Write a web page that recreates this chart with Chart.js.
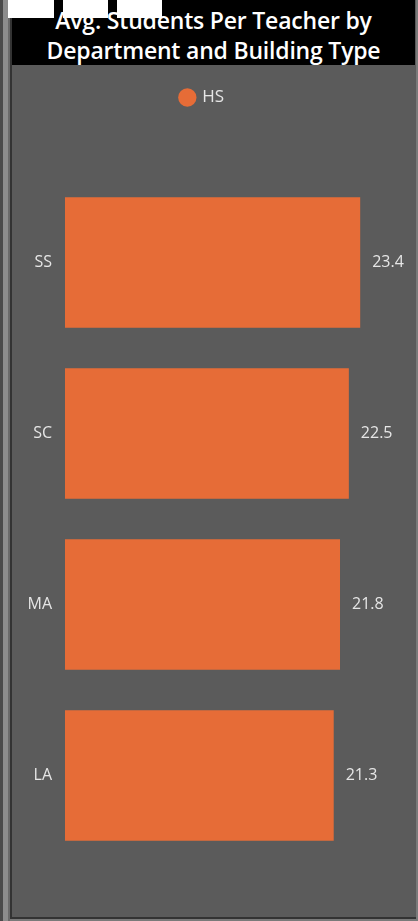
<!DOCTYPE html>
<html>
<head>
<meta charset="utf-8">
<script src="https://cdn.jsdelivr.net/npm/chart.js@4.4.1/dist/chart.umd.min.js"></script>
<style>
  html,body{margin:0;padding:0;}
  body{width:418px;height:921px;background:#7a7a7a;position:relative;overflow:hidden;font-family:"Open Sans",sans-serif;}
  .strip1{position:absolute;left:0;top:0;width:3px;height:921px;background:#4a4a4a;}
  .strip2{position:absolute;left:3px;top:0;width:5px;height:921px;background:#8c8c8c;}
  .strip3{position:absolute;left:8px;top:0;width:2px;height:921px;background:#6a6a6a;}
  .panel{position:absolute;left:10px;top:0;width:406px;height:919px;background:#5b5b5b;border-left:2px solid #333;border-bottom:2px solid #333;box-sizing:border-box;}
  .titlebar{position:absolute;left:12px;top:0;width:403px;height:65px;background:#000;color:#fff;
    font-family:"Open Sans",sans-serif;font-weight:600;font-size:23px;line-height:30px;text-align:center;padding-top:5px;box-sizing:border-box;letter-spacing:-0.2px;}
  .tab{position:absolute;top:0;height:18px;background:#fff;}
  #wrap{position:absolute;left:12px;top:66px;width:404px;height:852px;}
</style>
</head>
<body>
<div class="strip1"></div><div class="strip2"></div><div class="strip3"></div>
<div class="panel"></div>
<div class="titlebar">Avg. Students Per Teacher by<br>Department and Building Type</div>
<div class="tab" style="left:8px;width:46px"></div>
<div class="tab" style="left:63px;width:45px"></div>
<div class="tab" style="left:117px;width:45px"></div>
<div id="wrap"><canvas id="chart"></canvas></div>
<script>
const departments = ["SS", "SC", "MA", "LA"];
const seriesName = "HS";
const hsValues = [23.4, 22.5, 21.8, 21.3];

const barColor = "#e66c37";
const textColor = "#e6e6e6";

/* value labels at bar end */
const valueLabels = {
  id: "valueLabels",
  afterDatasetsDraw(chart){
    const c = chart.ctx;
    c.save();
    c.font = "16px 'Open Sans', sans-serif";
    c.fillStyle = textColor;
    c.textAlign = "left";
    c.textBaseline = "middle";
    chart.getDatasetMeta(0).data.forEach((bar, i)=>{
      c.fillText(hsValues[i].toFixed(1), bar.x + 12, bar.y);
    });
    c.restore();
  }
};

/* extra space under the legend */
const legendGap = {
  id: "legendGap",
  beforeLayout(chart){
    const lg = chart.legend;
    if(!lg || lg._gapPatched) return;
    const fit = lg.fit;
    lg.fit = function(){ fit.call(this); this.height += 61; };
    lg._gapPatched = true;
  }
};

new Chart(document.getElementById("chart"), {
  type: "bar",
  data: {
    labels: departments,
    datasets: [{
      label: seriesName,
      data: hsValues,
      backgroundColor: barColor,
      borderWidth: 0,
      categoryPercentage: 1,
      barPercentage: 0.762
    }]
  },
  options: {
    indexAxis: "y",
    responsive: true,
    maintainAspectRatio: false,
    animation: false,
    layout: { padding: { top: 0, right: 23, bottom: 57, left: 0 } },
    plugins: {
      legend: {
        display: true,
        labels: {
          usePointStyle: true,
          pointStyle: "circle",
          boxWidth: 13,
          boxHeight: 13,
          color: textColor,
          font: { size: 17, family: "'Open Sans', sans-serif" },
          padding: 23
        }
      },
      tooltip: { enabled: false }
    },
    scales: {
      x: { display: false, min: 0, max: 26 },
      y: {
        grid: { display: false, drawTicks: false },
        border: { display: false },
        ticks: { color: textColor, font: { size: 16, family: "'Open Sans', sans-serif" }, padding: 13 },
        afterFit(scale){ scale.width = 53; }
      }
    }
  },
  plugins: [valueLabels, legendGap]
});
</script>
</body>
</html>
